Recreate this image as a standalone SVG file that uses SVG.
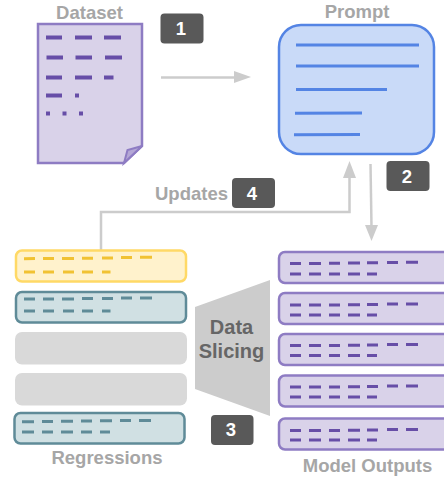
<svg xmlns="http://www.w3.org/2000/svg" width="444" height="477" viewBox="0 0 444 477">
<style>
text{font-family:"Liberation Sans",Arial,sans-serif;font-weight:700}
.lbl{fill:#a6a6a6;font-size:18.500px}
.num{fill:#fff;font-size:18.500px;text-anchor:middle}
.badge{fill:#595959}
.conn{fill:none;stroke:#cccccc;stroke-width:2.5}
.head{fill:#cccccc}
.pu{fill:#d9d2e9;stroke:#8e7cc3;stroke-width:2.5}
.pd{stroke:#674ea7;stroke-width:3;fill:none}
.pe{stroke:#674ea7;stroke-width:4;fill:none}
.ye{fill:#fff2cc;stroke:#ffd966;stroke-width:2.5}
.yd{stroke:#f1c232;stroke-width:3;fill:none}
.te{fill:#d0e0e3;stroke:#5f8b98;stroke-width:2.5}
.td{stroke:#5f8b98;stroke-width:3;fill:none}
.gr{fill:#d9d9d9}
.bl{stroke:#5484e4;stroke-width:3;fill:none}
</style>
<g id="connectors">
<path class="conn" d="M161 77.500H236"/><polygon class="head" points="234,71 251,77 234,83"/>
<path class="conn" d="M101 250V212H349.500V176"/><polygon class="head" points="343,178 349.500,161 356,178"/>
<path class="conn" d="M370.500 164L371.500 227"/><polygon class="head" points="365,225 378,225 371.500,241"/>
</g>
<g id="dataset">
<text class="lbl" x="89.500" y="18.500" text-anchor="middle">Dataset</text>
<path class="pu" d="M38 24H142V146L124 163H38Z"/>
<path d="M124 163L127.500 150L142 146Z" fill="#b4a7d6" stroke="#8e7cc3" stroke-width="2"/>
<path class="pe" d="M46 37.500H62M75 37.500H92M104 37.500H121M46.500 57.500H63M75.500 57.500H92M105 57.500H122M46 77.500H62M75 77.500H92M104 77.500H113.500M46 95.500H62M75 95.500H79M46 113.500H50M62.500 113.500H66.500M79 113.500H83"/>
</g>
<g id="prompt">
<text class="lbl" x="357" y="18" text-anchor="middle">Prompt</text>
<rect x="279" y="25" width="155" height="129" rx="22" fill="#c9daf8" stroke="#5484e4" stroke-width="2.500"/>
<path class="bl" d="M296 45H419M296 66H419M296 89.500H387M295 113.200L362 113M294 134.800L360 134.500"/>
</g>
<g id="badge1"><rect class="badge" x="160.500" y="13.500" width="43" height="30" rx="4"/><text class="num" x="181" y="35">1</text></g>
<g id="badge2"><rect class="badge" x="386.500" y="161" width="43" height="30" rx="4"/><text class="num" x="407" y="183">2</text></g>
<g id="badge3"><rect class="badge" x="211" y="415" width="42.500" height="30" rx="4"/><text class="num" x="231" y="436">3</text></g>
<g id="updates">
<text class="lbl" x="155" y="199.500">Updates</text>
<rect class="badge" x="232" y="178" width="43" height="30" rx="4"/><text class="num" x="252" y="200">4</text>
</g>
<g id="slicing">
<polygon points="195,307 270,280 270,416 195,389" fill="#cccccc"/>
<text x="231.500" y="333.500" text-anchor="middle" fill="#666666" font-size="20">Data</text>
<text x="231.500" y="358" text-anchor="middle" fill="#666666" font-size="20">Slicing</text>
</g>
<g id="regressions">
<g id="reg1"><rect class="ye" x="16" y="250.500" width="170" height="31" rx="6"/>
<path class="yd" d="M24 258.800L35 258.500M43 258.500H54M62 258.500H74M82 258.200H93M102 258H113M121 257.500H132M140 257.300H152M24 272H35M43 272H54M63 272H74M82 272H93M102 272H110.500"/></g>
<g id="reg2"><rect class="te" x="16" y="292" width="170" height="30.500" rx="6"/>
<path class="td" d="M24 299H35M43 299H54M62 299H74M82 298.500H93M102 298.500H113M121 298H132M140 298H152M24 311H35M43 311H54M63 311H74M82 311H93M102 311H110.500"/></g>
<rect id="reg3" class="gr" x="15" y="332" width="172" height="32.500" rx="7"/>
<rect id="reg4" class="gr" x="15" y="373" width="172" height="32.500" rx="7"/>
<g id="reg5"><rect class="te" x="14.500" y="413" width="170" height="30.500" rx="6"/>
<path class="td" d="M22 421.800H34M42 421.500H53M61 421.300H73M81 421H92M100 420.800H112M120 420.500H131M139 420.500H151M22 432H34M42 432H53M61 432H73M81 432H92M100 432H110"/></g>
<text class="lbl" x="107" y="463.500" text-anchor="middle">Regressions</text>
</g>
<g id="outputs">
<g id="out1"><rect class="pu" x="279" y="252" width="180" height="31" rx="6"/>
<path class="pd" d="M290 263.500H301M309 263.500H321M329 263.200H340M348 263H360M367 262.800H378M387 262.500H398M406 262.300H418M290 274H301M309 274H321M329 274H340M348 274H360M367 274H377"/></g>
<g id="out2"><rect class="pu" x="279" y="293" width="180" height="31" rx="6"/>
<path class="pd" d="M290 305H301M309 305H321M329 305H340M348 304.800H360M367 304.500H378M387 304H398M406 304H418M290 315H301M309 315H321M329 315H340M348 315H360M367 315H377"/></g>
<g id="out3"><rect class="pu" x="279" y="334" width="180" height="31" rx="6"/>
<path class="pd" d="M290 345.500H301M309 345.500H321M329 345.500H340M348 345.300H360M367 345H378M387 344.500H398M406 344.500H418M290 355.500H301M309 355.500H321M329 355.500H340M348 355.500H360M367 355.500H377"/></g>
<g id="out4"><rect class="pu" x="279" y="375.500" width="180" height="31" rx="6"/>
<path class="pd" d="M290 387H301M309 387H321M329 387H340M348 386.800H360M367 386.500H378M387 386H398M406 386H418M290 397H301M309 397H321M329 397H340M348 397H360M367 397H377"/></g>
<g id="out5"><rect class="pu" x="279" y="418.500" width="180" height="31" rx="6"/>
<path class="pd" d="M290 430.500H301M309 430.500H321M329 430.500H340M348 430.300H360M367 430H378M387 429.500H398M406 429.500H418M290 440H301M309 440H321M329 440H340M348 440H360M367 440H377"/></g>
<text class="lbl" x="367.500" y="471.500" text-anchor="middle">Model Outputs</text>
</g>
</svg>
